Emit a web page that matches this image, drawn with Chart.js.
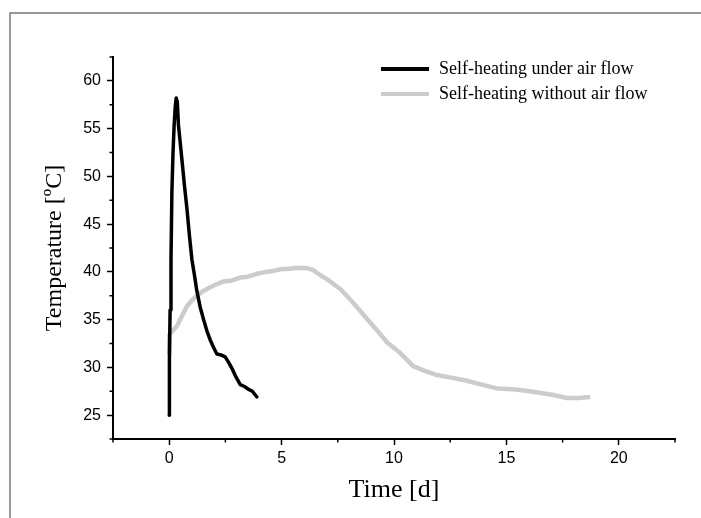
<!DOCTYPE html>
<html>
<head>
<meta charset="utf-8">
<script src="https://cdn.jsdelivr.net/npm/chart.js@4.4.1/dist/chart.umd.min.js"></script>
<style>
  html, body { margin: 0; padding: 0; background: #fff; }
  #wrap { width: 701px; height: 518px; position: relative; }
</style>
</head>
<body>
<div id="wrap"><canvas id="tempChart"></canvas></div>
<script>
// series: self-heating under air flow (time in days, temperature in degC)
const airFlowTime = [0, 0.01, 0.04, 0.08, 0.12, 0.17, 0.22, 0.27, 0.31, 0.36, 0.41, 0.56, 0.68, 0.79, 0.9, 1.01,
  1.12, 1.23, 1.38, 1.53, 1.68, 1.82, 1.97, 2.12, 2.3, 2.49, 2.65, 2.79, 2.97, 3.16, 3.35, 3.53, 3.7, 3.9];
const airFlowTemp = [25, 30.8, 36, 41.3, 48.4, 52.5, 55.4, 57.3, 58.2, 57.8, 55.4, 51.9, 49, 46.6, 43.8, 41.3,
  39.7, 38.0, 36.3, 35, 33.8, 32.9, 32.1, 31.4, 31.3, 31.1, 30.5, 29.9, 29, 28.2, 28, 27.7, 27.5, 26.9];

// series: self-heating without air flow
const noFlowTime = [0, 0, 0.1, 0.34, 0.55, 0.79, 1.0, 1.23, 1.45, 1.68, 2.0, 2.42, 2.8, 3.16, 3.5, 3.9, 4.3, 4.64,
  5.0, 5.24, 5.6, 6.12, 6.4, 6.57, 7.1, 7.61, 8.05, 8.5, 8.9, 9.24, 9.7, 10.28, 10.87, 11.4, 11.91, 12.6, 13.24,
  13.9, 14.58, 15.3, 16.06, 16.6, 17.1, 17.69, 18.2, 18.73];
const noFlowTemp = [31.3, 33.4, 33.7, 34.3, 35.3, 36.4, 37.0, 37.5, 37.9, 38.2, 38.6, 39.0, 39.1, 39.4, 39.5, 39.8,
  40.0, 40.1, 40.3, 40.3, 40.4, 40.4, 40.2, 39.9, 39.1, 38.2, 37.1, 35.9, 34.8, 33.9, 32.6, 31.5, 30.1, 29.6, 29.2,
  28.9, 28.6, 28.2, 27.8, 27.7, 27.5, 27.3, 27.1, 26.8, 26.8, 26.9];

const seriesLabels = ['Self-heating under air flow', 'Self-heating without air flow'];
const xTitle = 'Time [d]';
const yTitle = 'Temperature [ºC]';

const toPoints = (xs, ys) => xs.map((x, i) => ({ x: x, y: ys[i] }));

const serif = "'Liberation Serif', 'Times New Roman', serif";
const sans = "'Liberation Sans', Arial, sans-serif";

// outer frame (top + left) of the figure
const framePlugin = {
  id: 'frame',
  beforeDraw(chart) {
    const c = chart.ctx;
    c.save();
    c.strokeStyle = '#777';
    c.lineWidth = 1.5;
    c.beginPath();
    c.moveTo(10, chart.height);
    c.lineTo(10, 13);
    c.lineTo(chart.width, 13);
    c.stroke();
    c.restore();
  }
};

// short minor ticks, and the legend at the top right
const extrasPlugin = {
  id: 'extras',
  afterDraw(chart) {
    const c = chart.ctx;
    const xs = chart.scales.x, ys = chart.scales.y;
    c.save();
    c.strokeStyle = '#000';
    c.lineWidth = 1.5;
    xs.ticks.forEach(t => {
      if (t.value % 5 !== 0) {
        const px = xs.getPixelForValue(t.value);
        c.beginPath(); c.moveTo(px, xs.top); c.lineTo(px, xs.top + 3.5); c.stroke();
      }
    });
    ys.ticks.forEach(t => {
      if (t.value % 5 !== 0) {
        const py = ys.getPixelForValue(t.value);
        c.beginPath(); c.moveTo(ys.right, py); c.lineTo(ys.right - 3.5, py); c.stroke();
      }
    });

    c.font = '18px ' + serif;
    c.textBaseline = 'middle';
    c.fillStyle = '#000';
    chart.data.datasets.forEach((ds, i) => {
      const y = 69 + i * 25;
      c.strokeStyle = ds.borderColor;
      c.lineWidth = 4;
      c.beginPath(); c.moveTo(381, y); c.lineTo(429, y); c.stroke();
      c.fillText(ds.label, 439, y);
    });
    c.restore();
  }
};

new Chart(document.getElementById('tempChart').getContext('2d'), {
  type: 'scatter',
  data: {
    datasets: [{
      label: seriesLabels[0],
      data: toPoints(airFlowTime, airFlowTemp),
      showLine: true,
      borderColor: '#000000',
      borderWidth: 3.5,
      borderJoinStyle: 'round',
      borderCapStyle: 'round',
      pointRadius: 0,
      tension: 0
    }, {
      label: seriesLabels[1],
      data: toPoints(noFlowTime, noFlowTemp),
      showLine: true,
      borderColor: '#cccccc',
      borderWidth: 4.5,
      borderJoinStyle: 'round',
      pointRadius: 0,
      tension: 0
    }]
  },
  options: {
    responsive: true,
    maintainAspectRatio: false,
    animation: false,
    layout: { padding: { left: 0, top: 57, right: 26, bottom: 0 } },
    plugins: {
      legend: { display: false },
      tooltip: { enabled: false }
    },
    scales: {
      x: {
        type: 'linear',
        min: -2.5,
        max: 22.5,
        afterFit(scale) { scale.height = 79; },
        border: { color: '#000', width: 2 },
        grid: {
          drawOnChartArea: false,
          tickLength: 6,
          tickWidth: 1.5,
          tickColor: ctx => (ctx.tick && ctx.tick.value % 5 === 0) ? '#000' : 'rgba(0,0,0,0)'
        },
        ticks: {
          stepSize: 2.5,
          autoSkip: false,
          maxRotation: 0,
          padding: 4,
          color: '#000',
          font: { family: sans, size: 16 },
          callback: v => (v % 5 === 0 ? String(v) : '')
        },
        title: {
          display: true,
          text: xTitle,
          color: '#000',
          font: { family: serif, size: 26 },
          padding: { top: 0, bottom: 12 }
        }
      },
      y: {
        type: 'linear',
        min: 22.5,
        max: 62.5,
        afterFit(scale) { scale.width = 113; },
        border: { color: '#000', width: 2 },
        grid: {
          drawOnChartArea: false,
          tickLength: 6,
          tickWidth: 1.5,
          tickColor: ctx => (ctx.tick && ctx.tick.value % 5 === 0) ? '#000' : 'rgba(0,0,0,0)'
        },
        ticks: {
          stepSize: 2.5,
          autoSkip: false,
          padding: 6,
          color: '#000',
          font: { family: sans, size: 16 },
          callback: v => (v % 5 === 0 ? String(v) : '')
        },
        title: {
          display: true,
          text: yTitle,
          color: '#000',
          font: { family: serif, size: 24 },
          padding: { top: 40, bottom: 0 }
        }
      }
    }
  },
  plugins: [framePlugin, extrasPlugin]
});
</script>
</body>
</html>
